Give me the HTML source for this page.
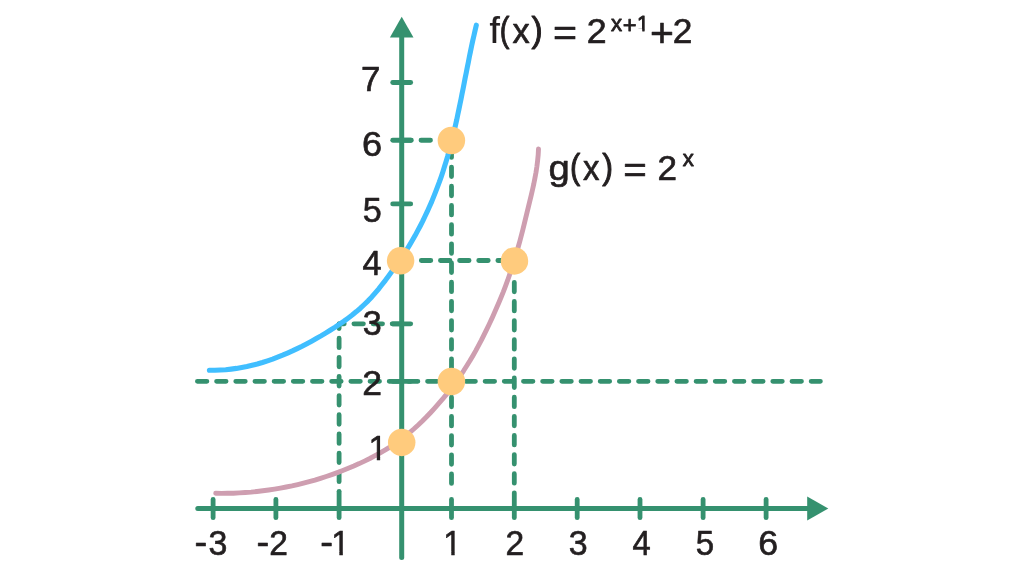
<!DOCTYPE html>
<html lang="en"><head><meta charset="utf-8"><title>Graph of f(x) = 2^(x+1)+2 and g(x) = 2^x</title>
<style>html,body{margin:0;padding:0;background:#fff;}body{width:1022px;height:575px;overflow:hidden;}svg{display:block;}text{font-family:"Liberation Sans",Arial,Helvetica,sans-serif;fill:#231F20;stroke:#231F20;stroke-width:0.65px;stroke-linejoin:round;}</style>
</head><body>
<svg width="1022" height="575" viewBox="0 0 1022 575">
<rect width="1022" height="575" fill="#fff"/>
<g fill="none" stroke="#35916F" stroke-width="4.8" stroke-linecap="round" stroke-dasharray="9.50 9.64">
<line x1="197.40" y1="381.30" x2="820.40" y2="381.30" stroke-dashoffset="0.00" stroke-dasharray="9.50 9.68"/>
<line x1="339.10" y1="323.80" x2="401.70" y2="323.80" stroke-dashoffset="4.34"/>
<line x1="401.70" y1="260.50" x2="514.30" y2="260.50" stroke-dashoffset="18.68"/>
<line x1="401.70" y1="140.25" x2="435.00" y2="140.25" stroke-dashoffset="18.98"/>
<line x1="339.10" y1="323.80" x2="339.10" y2="486.00" stroke-dashoffset="4.74"/>
<line x1="451.50" y1="140.25" x2="451.50" y2="483.40" stroke-dashoffset="11.52" stroke-dasharray="9.50 9.68"/>
<line x1="514.30" y1="282.30" x2="514.30" y2="487.50" stroke-dashoffset="0.00"/>
</g>
<g fill="none" stroke="#35916F" stroke-linecap="round">
<line x1="197.8" y1="508.4" x2="810" y2="508.4" stroke-width="5.0"/>
<line x1="401.7" y1="557.4" x2="401.7" y2="34" stroke-width="5.0"/>
<g stroke-width="4.8">
<line x1="213.1" y1="499.5" x2="213.1" y2="517.7"/>
<line x1="275.9" y1="499.5" x2="275.9" y2="517.7"/>
<line x1="339.1" y1="491.3" x2="339.1" y2="517.7"/>
<line x1="451.5" y1="499.5" x2="451.5" y2="517.7"/>
<line x1="514.3" y1="492.8" x2="514.3" y2="517.7"/>
<line x1="577.2" y1="499.5" x2="577.2" y2="517.7"/>
<line x1="640.0" y1="499.5" x2="640.0" y2="517.7"/>
<line x1="703.1" y1="499.5" x2="703.1" y2="517.7"/>
<line x1="766.1" y1="499.5" x2="766.1" y2="517.7"/>
<line x1="392.7" y1="381.3" x2="410.7" y2="381.3"/>
<line x1="392.7" y1="323.8" x2="410.7" y2="323.8"/>
<line x1="392.7" y1="203.9" x2="410.7" y2="203.9"/>
<line x1="392.7" y1="140.25" x2="410.7" y2="140.25"/>
<line x1="392.7" y1="82.5" x2="410.7" y2="82.5"/>
</g></g>
<path d="M389.9 37.4 L401.7 16.8 L413.5 37.4 Z" fill="#35916F"/>
<path d="M807.2 496.4 L828.3 508.4 L807.2 520.4 Z" fill="#35916F"/>
<g fill="none" stroke-width="4.9" stroke-linecap="round" stroke-linejoin="round">
<path d="M209.4 370.2 L214.9 370.2 L220.3 370.0 L225.7 369.7 L231.1 369.1 L236.4 368.4 L241.7 367.5 L246.9 366.5 L252.1 365.3 L257.3 364.0 L262.4 362.5 L267.5 360.8 L272.6 359.1 L277.6 357.2 L282.6 355.2 L287.5 353.1 L292.4 350.9 L297.2 348.6 L302.1 346.2 L306.9 343.7 L311.6 341.2 L316.3 338.6 L321.0 335.9 L325.6 333.1 L330.2 330.3 L334.8 327.4 L339.3 324.4 L343.7 321.4 L348.0 318.2 L352.2 315.0 L356.4 311.6 L360.4 308.2 L364.3 304.5 L368.1 300.8 L371.8 296.9 L375.3 292.9 L378.8 288.8 L382.1 284.5 L385.4 280.3 L388.6 276.0 L391.8 271.6 L394.9 267.3 L398.0 262.9 L401.0 258.5 L404.0 254.0 L406.9 249.5 L409.7 244.9 L412.4 240.3 L415.1 235.6 L417.6 230.9 L420.1 226.2 L422.6 221.4 L424.9 216.5 L427.2 211.7 L429.4 206.8 L431.6 201.9 L433.6 196.9 L435.6 191.9 L437.5 186.9 L439.4 181.9 L441.2 176.8 L442.9 171.7 L444.5 166.6 L446.1 161.5 L447.6 156.4 L449.0 151.2 L450.4 146.0 L451.8 140.8 L453.0 135.6 L454.3 130.4 L455.5 125.1 L456.7 119.9 L457.8 114.6 L458.9 109.4 L460.0 104.1 L461.1 98.8 L462.1 93.6 L463.2 88.3 L464.2 83.0 L465.2 77.7 L466.3 72.4 L467.3 67.2 L468.4 61.9 L469.4 56.6 L470.5 51.4 L471.6 46.1 L472.7 40.9 L473.9 35.7 L475.1 30.4 L476.3 25.2" stroke="#40BEFF" stroke-width="5.1"/>
<path d="M215.7 493.3 L221.6 493.4 L227.5 493.3 L233.4 493.2 L239.3 492.9 L245.2 492.5 L251.1 492.1 L257.0 491.5 L262.8 490.8 L268.7 490.0 L274.5 489.1 L280.4 488.1 L286.2 487.0 L292.0 485.9 L297.7 484.6 L303.5 483.2 L309.2 481.7 L314.9 480.1 L320.5 478.3 L326.2 476.5 L331.8 474.6 L337.3 472.6 L342.8 470.5 L348.3 468.3 L353.8 466.0 L359.2 463.6 L364.5 461.1 L369.8 458.5 L375.1 455.7 L380.2 452.9 L385.3 449.9 L390.3 446.8 L395.2 443.5 L400.0 440.1 L404.7 436.5 L409.3 432.8 L413.8 429.0 L418.2 425.0 L422.4 421.0 L426.6 416.8 L430.7 412.5 L434.7 408.1 L438.6 403.7 L442.5 399.2 L446.2 394.6 L449.9 390.0 L453.4 385.3 L456.9 380.5 L460.3 375.7 L463.6 370.8 L466.8 365.8 L469.9 360.8 L472.9 355.7 L475.8 350.6 L478.6 345.4 L481.4 340.2 L484.0 334.9 L486.6 329.6 L489.2 324.2 L491.7 318.9 L494.1 313.5 L496.5 308.1 L498.8 302.7 L501.1 297.2 L503.3 291.8 L505.4 286.3 L507.5 280.7 L509.4 275.2 L511.3 269.6 L513.1 264.0 L514.9 258.3 L516.6 252.7 L518.2 247.0 L519.8 241.3 L521.3 235.6 L522.8 229.9 L524.2 224.2 L525.6 218.4 L527.0 212.7 L528.4 206.9 L529.8 201.2 L531.2 195.4 L532.5 189.7 L533.8 183.9 L534.9 178.2 L536.0 172.4 L536.9 166.5 L537.6 160.7 L538.2 154.8 L538.5 148.9" stroke="#CE9EB0" stroke-width="4.9"/>
</g>
<g fill="#FFCB7D">
<circle cx="451.4" cy="140.45" r="13.75"/>
<circle cx="400.6" cy="260.8" r="13.75"/>
<circle cx="514.45" cy="260.9" r="13.75"/>
<circle cx="451.4" cy="381.5" r="13.75"/>
<circle cx="401.7" cy="442.4" r="13.75"/>
</g>
<g opacity="0.999">
<g><text transform="translate(194.51 555.30) scale(0.9966 1)" font-size="38.50">-</text><text transform="translate(208.46 555.00) scale(0.9541 1)" font-size="35.60">3</text></g>
<g><text transform="translate(256.61 555.30) scale(0.9966 1)" font-size="38.50">-</text><text transform="translate(269.17 555.00) scale(0.9425 1)" font-size="35.60">2</text></g>
<g><text transform="translate(320.21 555.30) scale(0.9966 1)" font-size="38.50">-</text><text transform="translate(331.13 555.00) scale(0.9904 1)" font-size="34.20" clip-path="url(#c1)">1</text></g>
<g><text transform="translate(443.17 555.00) scale(0.9786 1)" font-size="34.20" clip-path="url(#c2)">1</text></g>
<g><text transform="translate(505.47 555.00) scale(0.9425 1)" font-size="35.60">2</text></g>
<g><text transform="translate(568.86 555.00) scale(0.9541 1)" font-size="35.60">3</text></g>
<g><text transform="translate(632.40 555.00) scale(0.9573 1)" font-size="34.20">4</text></g>
<g><text transform="translate(695.63 555.00) scale(0.9304 1)" font-size="35.60">5</text></g>
<g><text transform="translate(758.22 555.00) scale(1.0054 1)" font-size="35.60">6</text></g>
<g><text transform="translate(360.97 90.60) scale(1.0188 1)" font-size="34.30">7</text></g>
<g><text transform="translate(362.10 156.10) scale(1.0233 1)" font-size="35.40">6</text></g>
<g><text transform="translate(362.78 222.40) scale(0.9737 1)" font-size="35.10">5</text></g>
<g><text transform="translate(362.56 274.60) scale(0.9921 1)" font-size="34.60">4</text></g>
<g><text transform="translate(362.75 335.00) scale(0.9655 1)" font-size="35.40">3</text></g>
<g><text transform="translate(362.17 394.80) scale(1.0007 1)" font-size="35.50">2</text></g>
<g><text transform="translate(368.50 460.20) scale(0.9877 1)" font-size="34.70" clip-path="url(#c3)">1</text></g>
<g><text transform="translate(489.38 42.70) scale(1.0292 1)" font-size="36.30" style="stroke-width:0.25px">f</text><text transform="translate(499.80 41.90) scale(0.8139 1)" font-size="35.70" style="stroke-width:1.0px">(</text><text transform="translate(512.39 42.70) scale(0.9966 1)" font-size="34.50">x</text><text transform="translate(531.60 41.90) scale(0.9408 1)" font-size="35.70" style="stroke-width:1.0px">)</text><text> </text><text transform="translate(552.98 44.60) scale(1.1244 1)" font-size="36.60">=</text><text> </text><text transform="translate(586.86 42.90) scale(1.0331 1)" font-size="34.60">2</text><text transform="translate(610.93 30.90) scale(1.0384 1)" font-size="21.40" style="stroke-width:0.8px">x</text><text transform="translate(622.74 33.30) scale(0.9984 1)" font-size="23.70" style="stroke-width:0.8px">+</text><text transform="translate(636.91 30.90) scale(1.0363 1)" font-size="21.40" clip-path="url(#c4)" style="stroke-width:1.1px">1</text><text transform="translate(649.89 46.50) scale(1.0011 1)" font-size="40.90">+</text><text transform="translate(672.78 42.90) scale(1.0204 1)" font-size="34.60">2</text></g>
<g><text transform="translate(548.59 179.80) scale(1.1047 1)" font-size="34.60">g</text><text transform="translate(569.98 179.10) scale(0.8668 1)" font-size="35.70" style="stroke-width:1.0px">(</text><text transform="translate(582.91 179.80) scale(0.9540 1)" font-size="34.50">x</text><text transform="translate(602.21 179.10) scale(0.9090 1)" font-size="35.70" style="stroke-width:1.0px">)</text><text> </text><text transform="translate(623.32 182.00) scale(1.1019 1)" font-size="36.60">=</text><text> </text><text transform="translate(657.40 179.80) scale(1.0025 1)" font-size="35.00">2</text><text transform="translate(682.83 165.80) scale(1.0384 1)" font-size="21.40" style="stroke-width:0.8px">x</text></g>
</g>
<defs><clipPath id="c1"><path d="M0 -27.36 H11.80 V1 H8.31 V-3.42 H0 Z"/></clipPath><clipPath id="c2"><path d="M0 -27.36 H11.80 V1 H8.31 V-3.42 H0 Z"/></clipPath><clipPath id="c3"><path d="M0 -27.76 H11.97 V1 H8.43 V-3.47 H0 Z"/></clipPath><clipPath id="c4"><path d="M0 -17.12 H7.38 V1 H5.20 V-2.14 H0 Z"/></clipPath></defs>
</svg></body></html>
